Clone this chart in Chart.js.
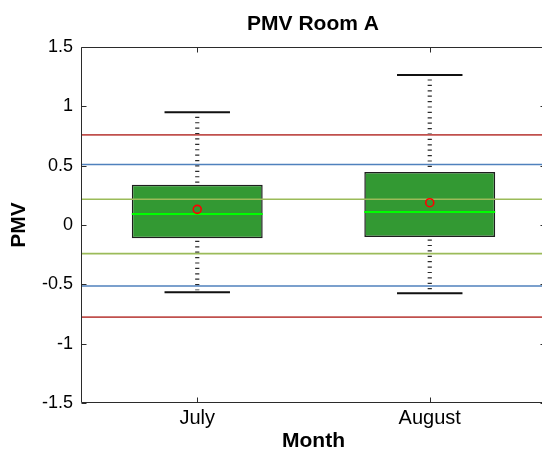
<!DOCTYPE html>
<html>
<head>
<meta charset="utf-8">
<title>PMV Room A</title>
<script src="https://cdn.jsdelivr.net/npm/chart.js@4/dist/chart.umd.min.js"></script>
<style>
  html, body { margin: 0; padding: 0; background: #fff; overflow: hidden; }
  #wrap { position: absolute; left: 0; top: 0; width: 626px; height: 450px; }
</style>
</head>
<body>
<div id="wrap"><canvas id="c" width="626" height="450"></canvas></div>
<script>
// Monthly PMV distribution (box = quartiles, whiskers = extremes)
const months = ['July', 'August'];
const lowerWhisker = [-0.567, -0.576];
const firstQuartile = [-0.112, -0.101];
const medianPMV = [0.093, 0.110];
const meanPMV = [0.132, 0.188];
const thirdQuartile = [0.340, 0.447];
const upperWhisker = [0.950, 1.265];

// Comfort category limits (upper, lower)
const redLimits = [0.760, -0.776];
const blueLimits = [0.510, -0.514];
const greenLimits = [0.217, -0.241];

const yTicks = [-1.5, -1, -0.5, 0, 0.5, 1, 1.5];

const FONT = 'Liberation Sans, Arial, Helvetica, sans-serif';
const X_MIN = 0.5, X_MAX = 2.5;

function limitLine(value, color) {
  return {
    type: 'line',
    data: [{ x: X_MIN, y: value }, { x: X_MAX, y: value }],
    borderColor: color,
    borderWidth: 1.7,
    pointRadius: 0,
    tension: 0,
    order: 1
  };
}

// Whiskers, caps and median lines, drawn right after the boxes
const boxExtras = {
  id: 'boxExtras',
  afterDatasetDraw(chart, args) {
    if (args.index !== 0) return;
    const { ctx, scales: { y } } = chart;
    const meta = args.meta;
    ctx.save();
    meta.data.forEach((bar, i) => {
      const cx = bar.x;
      const w = bar.width;
      const yHi = y.getPixelForValue(upperWhisker[i]);
      const yLo = y.getPixelForValue(lowerWhisker[i]);
      const yQ3 = y.getPixelForValue(thirdQuartile[i]);
      const yQ1 = y.getPixelForValue(firstQuartile[i]);
      const yMed = y.getPixelForValue(medianPMV[i]);

      // dotted whisker stems
      ctx.strokeStyle = '#2a2a2a';
      ctx.lineWidth = 4.2;
      ctx.lineCap = 'butt';
      ctx.setLineDash([1.2, 4.2]);
      ctx.beginPath();
      ctx.moveTo(cx, yHi + 4.5);
      ctx.lineTo(cx, yQ3 - 1);
      ctx.moveTo(cx, yQ1 + 2.5);
      ctx.lineTo(cx, yLo - 2);
      ctx.stroke();
      ctx.setLineDash([]);

      // caps
      ctx.strokeStyle = '#111';
      ctx.lineWidth = 2;
      ctx.beginPath();
      ctx.moveTo(cx - w / 4, yHi);
      ctx.lineTo(cx + w / 4, yHi);
      ctx.moveTo(cx - w / 4, yLo);
      ctx.lineTo(cx + w / 4, yLo);
      ctx.stroke();

      // median
      ctx.strokeStyle = '#00ff00';
      ctx.lineWidth = 2;
      ctx.beginPath();
      ctx.moveTo(cx - w / 2, yMed);
      ctx.lineTo(cx + w / 2, yMed);
      ctx.stroke();
    });
    ctx.restore();
  }
};

// Axes box with inward tick marks
const axisFrame = {
  id: 'axisFrame',
  afterDatasetsDraw(chart) {
    const { ctx, chartArea: a, scales: { x, y } } = chart;
    const L = Math.round(a.left) + 0.5;
    const R = Math.round(a.right) - 0.5;
    const T = Math.round(a.top) + 0.5;
    const B = Math.round(a.bottom) - 0.5;
    ctx.save();
    ctx.strokeStyle = '#2b2b2b';
    ctx.lineWidth = 1;
    ctx.beginPath();
    ctx.rect(L, T, R - L, B - T);
    y.ticks.forEach(t => {
      const py = Math.round(y.getPixelForValue(t.value)) + 0.5;
      ctx.moveTo(L, py); ctx.lineTo(L + 5, py);
      ctx.moveTo(R, py); ctx.lineTo(R - 5, py);
    });
    x.ticks.forEach(t => {
      const px = Math.round(x.getPixelForValue(t.value)) + 0.5;
      ctx.moveTo(px, B); ctx.lineTo(px, B - 5);
      ctx.moveTo(px, T); ctx.lineTo(px, T + 5);
    });
    ctx.stroke();
    ctx.restore();
  }
};

new Chart(document.getElementById('c'), {
  data: {
    datasets: [
      {
        type: 'bar',
        data: months.map((m, i) => ({ x: i + 1, y: [firstQuartile[i], thirdQuartile[i]] })),
        backgroundColor: '#339933',
        borderColor: '#1e1e1e',
        borderWidth: 1.5,
        borderSkipped: false,
        categoryPercentage: 1,
        barPercentage: 0.563,
        order: 3
      },
      limitLine(redLimits[0], '#c0504d'),
      limitLine(redLimits[1], '#c0504d'),
      limitLine(blueLimits[0], '#4f81bd'),
      limitLine(blueLimits[1], '#4f81bd'),
      limitLine(greenLimits[0], '#9bbb59'),
      limitLine(greenLimits[1], '#9bbb59'),
      {
        type: 'line',
        data: months.map((m, i) => ({ x: i + 1, y: meanPMV[i] })),
        showLine: false,
        pointStyle: 'circle',
        pointRadius: 4,
        pointBorderWidth: 1.6,
        pointBorderColor: '#ff0000',
        pointBackgroundColor: 'rgba(0,0,0,0)',
        order: 0
      }
    ]
  },
  options: {
    responsive: false,
    animation: false,
    events: [],
    layout: { padding: 0 },
    plugins: {
      legend: { display: false },
      tooltip: { enabled: false },
      title: {
        display: true,
        text: 'PMV Room A',
        color: '#000',
        font: { family: FONT, size: 21, weight: 'bold', lineHeight: 1.2 },
        padding: { top: 11.4, bottom: 10.4 }
      }
    },
    scales: {
      x: {
        type: 'linear',
        position: 'bottom',
        offset: false,
        min: X_MIN,
        max: X_MAX,
        afterBuildTicks(scale) { scale.ticks = months.map((m, i) => ({ value: i + 1 })); },
        afterFit(scale) { scale.height = 47; },
        grid: { display: false, drawTicks: false, offset: false },
        border: { display: false },
        ticks: {
          color: '#000',
          padding: 3,
          font: { family: FONT, size: 20 },
          callback: v => months[Math.round(v) - 1]
        },
        title: {
          display: true,
          text: 'Month',
          color: '#000',
          font: { family: FONT, size: 21, weight: 'bold', lineHeight: 1 },
          padding: { top: 0, bottom: -1.5 }
        }
      },
      y: {
        type: 'linear',
        position: 'left',
        min: -1.5,
        max: 1.5,
        afterBuildTicks(scale) { scale.ticks = yTicks.map(v => ({ value: v })); },
        afterFit(scale) { scale.width = 81; },
        grid: { display: false, drawTicks: false },
        border: { display: false },
        ticks: {
          color: '#000',
          padding: 8,
          font: { family: FONT, size: 18 },
          callback: v => String(v)
        },
        title: {
          display: true,
          text: 'PMV',
          color: '#000',
          font: { family: FONT, size: 21, weight: 'bold', lineHeight: 1.2 },
          padding: { top: 6.5, bottom: 0 }
        }
      },
      yRight: {
        type: 'linear',
        position: 'right',
        display: true,
        afterFit(scale) { scale.width = 80; },
        grid: { display: false, drawTicks: false },
        border: { display: false },
        ticks: { display: false }
      }
    }
  },
  plugins: [boxExtras, axisFrame]
});
</script>
</body>
</html>
